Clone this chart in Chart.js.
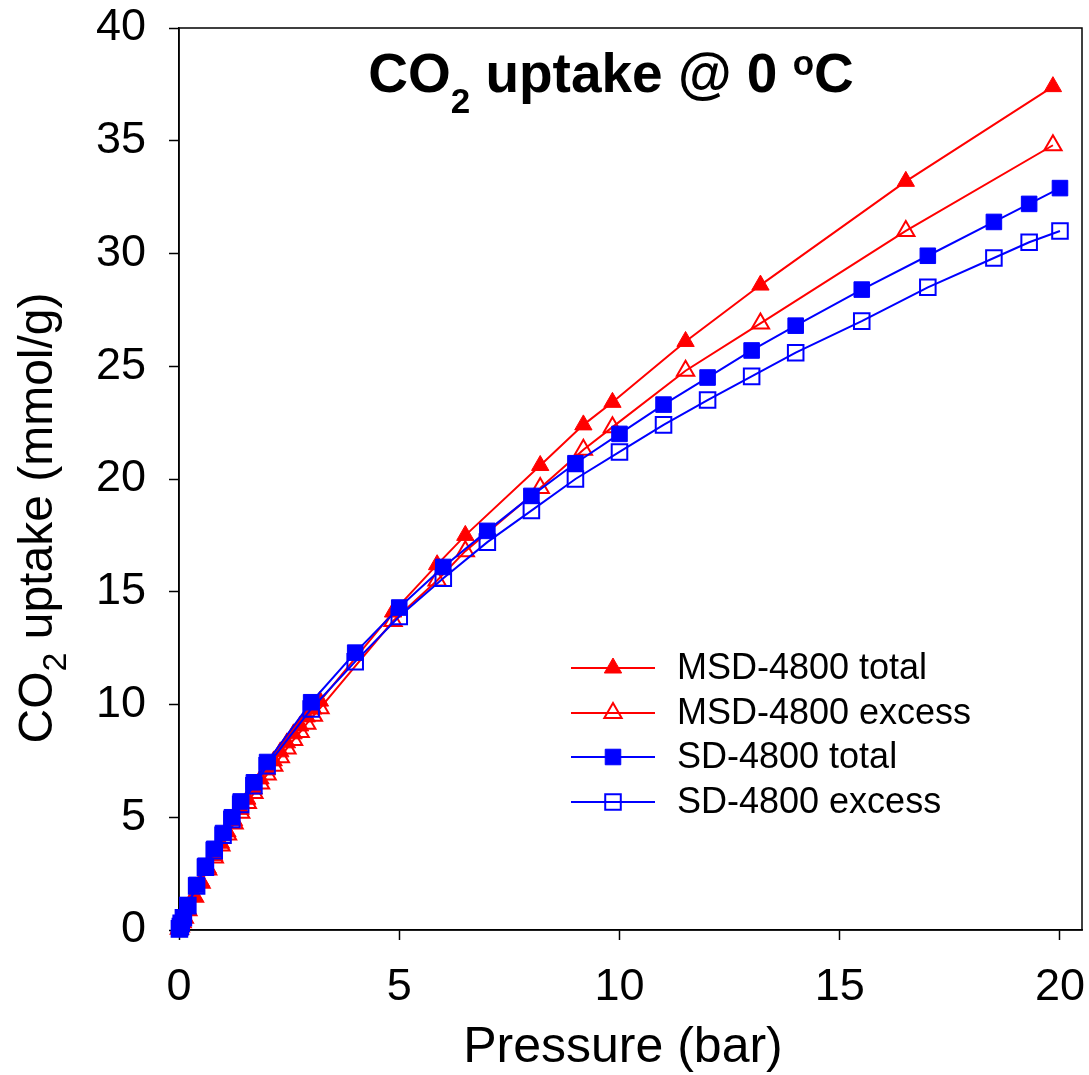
<!DOCTYPE html>
<html>
<head>
<meta charset="utf-8">
<script src="https://cdn.jsdelivr.net/npm/chart.js@4.4.0/dist/chart.umd.min.js"></script>
<style>
  html, body { margin: 0; padding: 0; background: #fff; }
</style>
</head>
<body>
<canvas id="uptakeChart" width="1089" height="1075"></canvas>
<script>
// pressures (bar) and uptakes (mmol/g)
const msdPressure = [0.01, 0.03, 0.07, 0.12, 0.2, 0.35, 0.5, 0.65, 0.8, 0.95, 1.1, 1.25, 1.4, 1.55, 1.7, 1.85, 2.0, 2.15, 2.3, 2.45, 2.6, 2.75, 2.9, 3.05, 3.2,
                     4.86, 5.86, 6.5, 8.2, 9.18, 9.84, 11.5, 13.2, 16.5, 19.84];
const msdTotal = [0.05, 0.15, 0.35, 0.55, 0.9, 1.5, 2.15, 2.75, 3.3, 3.85, 4.35, 4.85, 5.35, 5.8, 6.25, 6.7, 7.1, 7.5, 7.9, 8.3, 8.7, 9.05, 9.45, 9.8, 10.15,
                  14.1, 16.2, 17.5, 20.6, 22.4, 23.4, 26.1, 28.6, 33.2, 37.4];
const msdExcess = [0.05, 0.15, 0.34, 0.54, 0.88, 1.47, 2.1, 2.68, 3.22, 3.75, 4.24, 4.72, 5.2, 5.63, 6.07, 6.5, 6.9, 7.28, 7.66, 8.05, 8.43, 8.78, 9.15, 9.5, 9.83,
                   13.7, 15.5, 16.8, 19.6, 21.3, 22.3, 24.8, 26.9, 31.0, 34.8];

const sdPressure = [0.01, 0.03, 0.05, 0.1, 0.2, 0.4, 0.6, 0.8, 1.0, 1.2, 1.4, 1.7, 2.0, 3.0, 4.0, 5.0, 6.0, 7.0, 8.0, 9.0, 10.0,
                    11.0, 12.0, 13.0, 14.0, 15.5, 17.0, 18.5, 19.3, 20.0];
const sdTotal = [0.05, 0.15, 0.3, 0.55, 1.1, 2.0, 2.85, 3.6, 4.3, 5.0, 5.7, 6.55, 7.45, 10.1, 12.3, 14.3, 16.1, 17.7, 19.25, 20.7, 22.0,
                 23.3, 24.5, 25.7, 26.8, 28.4, 29.9, 31.4, 32.2, 32.9];
const sdExcess = [0.05, 0.15, 0.3, 0.54, 1.08, 1.95, 2.78, 3.52, 4.2, 4.9, 5.57, 6.4, 7.28, 9.8, 11.9, 13.9, 15.6, 17.2, 18.6, 20.0, 21.2,
                  22.4, 23.5, 24.55, 25.6, 27.0, 28.5, 29.8, 30.5, 31.0];

const seriesNames = ["MSD-4800 total", "MSD-4800 excess", "SD-4800 total", "SD-4800 excess"];
const xTicks = [0, 5, 10, 15, 20];
const yTicks = [0, 5, 10, 15, 20, 25, 30, 35, 40];

const RED = "#ff0000";
const BLUE = "#0000ff";
const FONT = "'Liberation Sans', Arial, sans-serif";

function pts(xs, ys) {
  return xs.map((x, i) => ({ x: x, y: ys[i] }));
}

function series(label, xs, ys, color, style, filled, order) {
  return {
    label: label,
    data: pts(xs, ys),
    showLine: true,
    borderColor: color,
    borderWidth: 2,
    backgroundColor: color,
    pointStyle: style,
    pointRadius: style === "triangle" ? 10 : 11,
    pointBackgroundColor: filled ? color : "rgba(0,0,0,0)",
    pointBorderColor: color,
    pointBorderWidth: filled ? 1 : 2,
    tension: 0,
    clip: false,
    order: order
  };
}

// texts with sub/superscripts, frame and legend
const decorations = {
  id: "decorations",
  beforeDatasetsDraw(chart) {
    const { ctx, chartArea: a } = chart;
    ctx.save();
    ctx.strokeStyle = "#000";
    ctx.lineWidth = 1.5;
    ctx.strokeRect(a.left, a.top, a.right - a.left, a.bottom - a.top);
    ctx.restore();
  },
  afterDraw(chart) {
    const { ctx } = chart;
    ctx.save();
    ctx.fillStyle = "#000";
    ctx.textBaseline = "alphabetic";
    ctx.textAlign = "left";

    // pieces: [text, font, baseline shift]
    function runWidth(parts) {
      let w = 0;
      parts.forEach(p => { ctx.font = p[1]; w += ctx.measureText(p[0]).width; });
      return w;
    }
    function drawRun(parts, x, y) {
      parts.forEach(p => {
        ctx.font = p[1];
        ctx.fillText(p[0], x, y + p[2]);
        x += ctx.measureText(p[0]).width;
      });
    }

    // title
    const tBig = "bold 55px " + FONT, tSmall = "bold 35px " + FONT;
    const title = [["CO", tBig, 0], ["2", tSmall, 21], [" uptake @ 0 ", tBig, 0], ["o", tSmall, -17], ["C", tBig, 0]];
    drawRun(title, 611 - runWidth(title) / 2, 92);

    // x axis title
    ctx.font = "50px " + FONT;
    ctx.textAlign = "center";
    ctx.fillText("Pressure (bar)", 623, 1062);
    ctx.textAlign = "left";

    // y axis title, rotated
    const yBig = "48px " + FONT, ySmall = "34px " + FONT;
    const ytitle = [["CO", yBig, 0], ["2", ySmall, 14], [" uptake (mmol/g)", yBig, 0]];
    ctx.save();
    ctx.translate(52, 518);
    ctx.rotate(-Math.PI / 2);
    drawRun(ytitle, -runWidth(ytitle) / 2, 0);
    ctx.restore();

    // legend
    const rows = [668, 713, 757, 802];
    chart.data.datasets.forEach((ds, i) => {
      const y = rows[i];
      ctx.strokeStyle = ds.borderColor;
      ctx.lineWidth = ds.borderWidth;
      ctx.beginPath();
      ctx.moveTo(571, y);
      ctx.lineTo(655, y);
      ctx.stroke();
      ctx.fillStyle = ds.pointBackgroundColor;
      ctx.strokeStyle = ds.pointBorderColor;
      ctx.lineWidth = ds.pointBorderWidth;
      Chart.helpers.drawPoint(ctx, {
        pointStyle: ds.pointStyle,
        radius: ds.pointRadius,
        rotation: 0,
        borderWidth: ds.pointBorderWidth
      }, 613, y);
      ctx.fillStyle = "#000";
      ctx.font = "36px " + FONT;
      ctx.textBaseline = "middle";
      ctx.fillText(ds.label, 677, y + 1);
    });
    ctx.restore();
  }
};

function noPad(s) {
  s.paddingTop = 0;
  s.paddingBottom = 0;
  s.paddingLeft = 0;
  s.paddingRight = 0;
}

new Chart(document.getElementById("uptakeChart"), {
  type: "scatter",
  data: {
    datasets: [
      series(seriesNames[0], msdPressure, msdTotal, RED, "triangle", true, 2),
      series(seriesNames[1], msdPressure, msdExcess, RED, "triangle", false, 3),
      series(seriesNames[2], sdPressure, sdTotal, BLUE, "rect", true, 0),
      series(seriesNames[3], sdPressure, sdExcess, BLUE, "rect", false, 1)
    ]
  },
  options: {
    responsive: false,
    animation: false,
    layout: { autoPadding: false, padding: { top: 28, right: 7, left: 0, bottom: 0 } },
    plugins: {
      legend: { display: false },
      tooltip: { enabled: false }
    },
    scales: {
      x: {
        type: "linear",
        min: 0,
        max: 20.5,
        afterBuildTicks: s => { s.ticks = xTicks.map(v => ({ value: v })); },
        afterFit: s => { s.height = 145; noPad(s); },
        ticks: { color: "#000", font: { family: FONT, size: 45 }, padding: 21, maxRotation: 0 },
        grid: { drawOnChartArea: false, drawTicks: true, tickLength: 10, tickWidth: 1.5, tickColor: "#000" },
        border: { display: true, color: "#000", width: 1.5 }
      },
      y: {
        min: 0,
        max: 40,
        afterBuildTicks: s => { s.ticks = yTicks.map(v => ({ value: v })); },
        afterFit: s => { s.width = 179; noPad(s); },
        ticks: { color: "#000", font: { family: FONT, size: 45 }, padding: 23 },
        grid: { drawOnChartArea: false, drawTicks: true, tickLength: 10, tickWidth: 1.5, tickColor: "#000" },
        border: { display: true, color: "#000", width: 1.5 }
      }
    }
  },
  plugins: [decorations]
});
</script>
</body>
</html>
